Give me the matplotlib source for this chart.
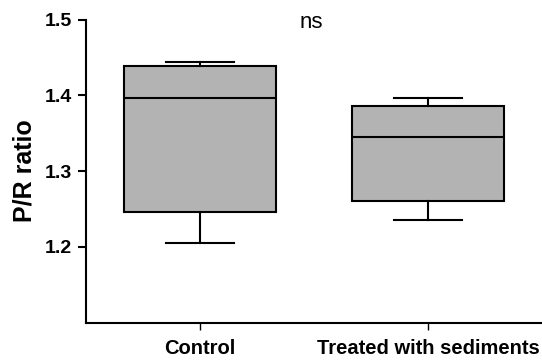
import numpy as np
import matplotlib
matplotlib.use("Agg")
import matplotlib.pyplot as plt

plt.rcParams['font.family'] = ['Liberation Sans', 'DejaVu Sans']

groups = ["Control", "Treated with sediments"]
whisk_lo = [1.205, 1.236]
q1 = [1.246, 1.260]
med = [1.396, 1.345]
q3 = [1.439, 1.386]
whisk_hi = [1.444, 1.396]

stats = []
for i, g in enumerate(groups):
    stats.append(dict(label=g, whislo=whisk_lo[i], q1=q1[i], med=med[i],
                      q3=q3[i], whishi=whisk_hi[i], fliers=[]))

fig = plt.figure(figsize=(5.42, 3.6), dpi=100)
ax = fig.add_axes([86 / 542, 1 - 322.7 / 360, 456 / 542, (322.7 - 19.5) / 360])

lw = 1.5
ax.bxp(stats, positions=[0, 1], widths=0.667, patch_artist=True,
       showfliers=False, capwidths=0.3,
       boxprops=dict(facecolor='#b3b3b3', edgecolor='black', linewidth=lw),
       medianprops=dict(color='black', linewidth=lw),
       whiskerprops=dict(color='black', linewidth=lw),
       capprops=dict(color='black', linewidth=lw))

ax.set_xlim(-0.5, 1.5)
ax.set_ylim(1.1, 1.5)
ax.set_yticks([1.2, 1.3, 1.4, 1.5])
ax.set_yticklabels(["1.2", "1.3", "1.4", "1.5"], fontsize=14, fontweight='bold')
ax.set_xticks([0, 1])
ax.set_xticklabels(groups, fontsize=14.5, fontweight='bold')

ax.spines['top'].set_visible(False)
ax.spines['right'].set_visible(False)
ax.spines['left'].set_linewidth(lw)
ax.spines['bottom'].set_linewidth(lw)
ax.tick_params(axis='y', length=6, width=lw, pad=4)
ax.tick_params(axis='x', length=5, width=1, pad=7)

ax.set_ylabel("P/R ratio", fontsize=18, fontweight='bold', labelpad=6)
ax.text(0.487, 1.4955, "ns", fontsize=16, ha='center', va='center')

fig.savefig("out.png", dpi=100)
